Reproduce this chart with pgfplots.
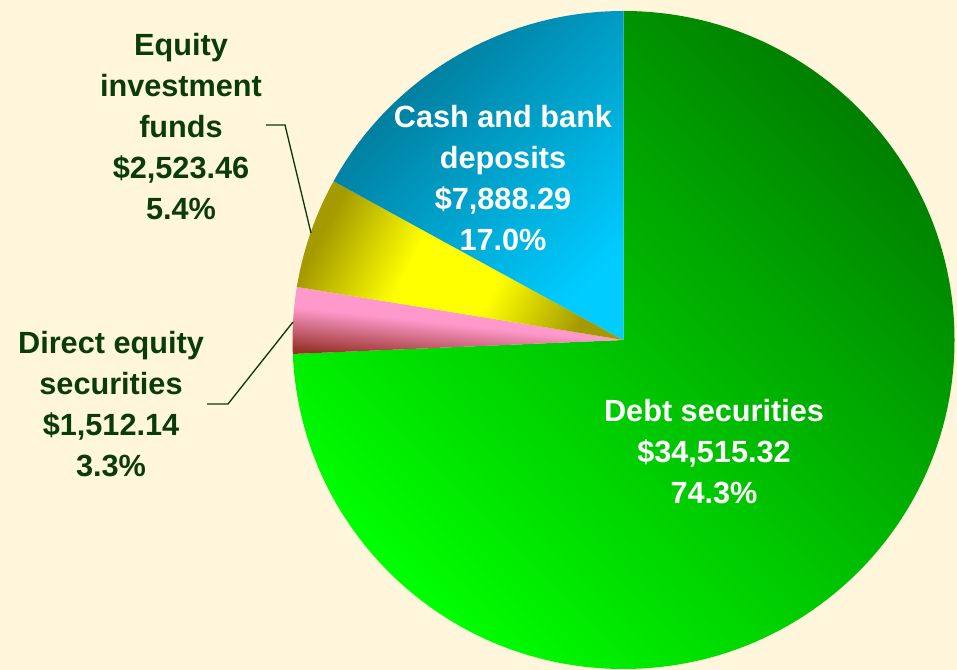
\documentclass[border=0pt]{standalone}
\usepackage{pgfplots}
\pgfplotsset{compat=1.18}
\usepackage{pgfplotstable}
\usepackage{fontspec}
\setmainfont{Liberation Sans}

\definecolor{bgcream}{RGB}{255,246,220}
\definecolor{labgreen}{RGB}{10,60,10}
\definecolor{debtdark}{RGB}{0,128,0}
\definecolor{debtlight}{RGB}{0,255,0}
\definecolor{cashdark}{RGB}{0,115,145}
\definecolor{cashlight}{RGB}{0,204,255}
\definecolor{fundolive}{RGB}{165,155,0}
\definecolor{fundyellow}{RGB}{255,255,0}
\definecolor{dirpink}{RGB}{255,153,204}
\definecolor{dirred}{RGB}{150,50,40}

% gradients with a wider bright band
\pgfdeclareverticalshading{fundshade}{100bp}{color(0bp)=(fundolive); color(25bp)=(fundolive);
    color(42bp)=(fundyellow); color(58bp)=(fundyellow); color(75bp)=(fundolive); color(100bp)=(fundolive)}
\pgfdeclareverticalshading{dirshade}{100bp}{color(0bp)=(dirred); color(25bp)=(dirred);
    color(48bp)=(dirpink); color(100bp)=(dirpink)}

% portfolio values, clockwise from 12 o'clock
\pgfplotstableread{
label  value
Debt   34515.32
Direct 1512.14
Funds  2523.46
Cash   7888.29
}\piedata

\pgfplotstablegetelem{0}{value}\of\piedata \let\vA\pgfplotsretval
\pgfplotstablegetelem{1}{value}\of\piedata \let\vB\pgfplotsretval
\pgfplotstablegetelem{2}{value}\of\piedata \let\vC\pgfplotsretval
\pgfplotstablegetelem{3}{value}\of\piedata \let\vD\pgfplotsretval
\edef\total{\fpeval{\vA+\vB+\vC+\vD}}
\edef\aO{90}
\edef\aI{\fpeval{\aO-360*\vA/\total}}
\edef\aII{\fpeval{\aI-360*\vB/\total}}
\edef\aIII{\fpeval{\aII-360*\vC/\total}}
\edef\aIV{\fpeval{\aIII-360*\vD/\total}}

% one slice: start angle, end angle
\newcommand\slice[2]{(axis cs:623.5,330) -- ++(#1:248.25pt and 246.75pt)
    arc[start angle=#1, end angle=#2, x radius=248.25pt, y radius=246.75pt] -- cycle}

\begin{document}
\begin{tikzpicture}
\begin{axis}[
    x=0.75pt, y=0.75pt,
    xmin=0, xmax=957,
    ymin=0, ymax=670,
    hide axis,
    clip=false,
]
    % background
    \fill[bgcream] (axis cs:0,0) rectangle (axis cs:957,670);

    % slices
    \path[top color=debtdark, bottom color=debtlight, shading angle=-45] \slice{\aO}{\aI};
    \shade[shading=dirshade, shading angle=-6] \slice{\aI}{\aII};
    \shade[shading=fundshade, shading angle=63] \slice{\aII}{\aIII};
    \path[top color=cashdark, bottom color=cashlight, shading angle=45] \slice{\aIII}{\aIV};

    % labels
    \tikzset{lab/.style={align=center, font=\fontsize{23}{30.75}\selectfont\bfseries}}
    \node[lab, text=white] at (axis cs:503,491.5)
        {Cash and bank\\deposits\\\$7,888.29\\17.0\%};
    \node[lab, text=white] at (axis cs:714,218)
        {Debt securities\\\$34,515.32\\74.3\%};
    \node[lab, text=labgreen] at (axis cs:181,543)
        {Equity\\investment\\funds\\\$2,523.46\\5.4\%};
    \node[lab, text=labgreen] at (axis cs:111,266)
        {Direct equity\\securities\\\$1,512.14\\3.3\%};

    % leader lines
    \draw[labgreen, line width=1pt]
        (axis cs:266,545) -- (axis cs:285,545) -- (axis cs:311,437);
    \draw[labgreen, line width=1pt]
        (axis cs:207,266) -- (axis cs:228,266) -- (axis cs:293,348);
\end{axis}
\end{tikzpicture}
\end{document}
